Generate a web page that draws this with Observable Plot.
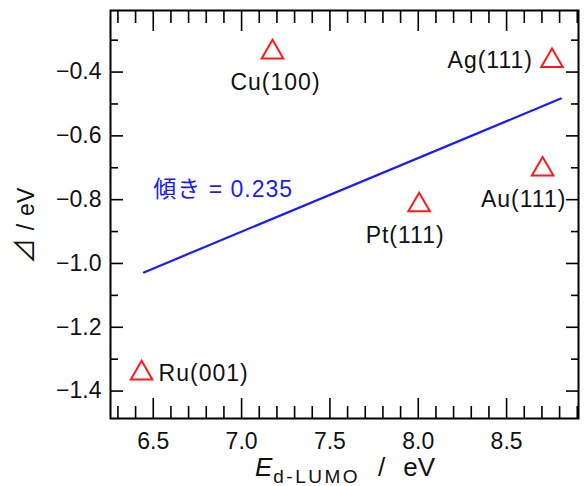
<!DOCTYPE html>
<html>
<head>
<meta charset="utf-8">
<script src="https://cdn.jsdelivr.net/npm/d3@7"></script>
<script src="https://cdn.jsdelivr.net/npm/@observablehq/plot@0.6"></script>
<style>
  html, body { margin: 0; padding: 0; background: #fff; }
  #chart { width: 585px; height: 486px; overflow: hidden; }
</style>
</head>
<body>
<div id="chart"></div>
<script>
// ---- data ----
const surfaces = ["Ru(001)", "Cu(100)", "Pt(111)", "Au(111)", "Ag(111)"];
const eLumo    = [6.434, 7.175, 8.005, 8.704, 8.757];      // E_d-LUMO / eV
const delta    = [-1.344, -0.338, -0.817, -0.705, -0.365]; // ⊿ / eV

// regression line end points
const fitX = [6.447, 8.807];
const fitY = [-1.028, -0.483];
const slopeText = "傾き = 0.235";
const slopeAnchor = {x: 6.5, y: -0.77};

// ticks
const xMajor = [6.5, 7.0, 7.5, 8.0, 8.5];
const xMinor = [6.3, 6.4, 6.6, 6.7, 6.8, 6.9, 7.1, 7.2, 7.3, 7.4, 7.6, 7.7, 7.8, 7.9, 8.1, 8.2, 8.3, 8.4, 8.6, 8.7, 8.8, 8.9];
const yMajor = [-1.4, -1.2, -1.0, -0.8, -0.6, -0.4];
const yMinor = [-1.3, -1.1, -0.9, -0.7, -0.5, -0.3];

// ---- build ----
const points = surfaces.map((s, i) => ({name: s, x: eLumo[i], y: delta[i]}));
const fit = fitX.map((x, i) => ({x, y: fitY[i]}));

// label placement relative to each marker (style, not data)
const placement = {
  "Ru(001)": {dx: 17, dy: 0, textAnchor: "start"},
  "Cu(100)": {dx: 3, dy: 30, textAnchor: "middle"},
  "Pt(111)": {dx: -14, dy: 31, textAnchor: "middle"},
  "Au(111)": {dx: -19, dy: 30, textAnchor: "middle"},
  "Ag(111)": {dx: -19, dy: 0, textAnchor: "end"}
};

const FONT = "'Liberation Sans', Arial, Helvetica, sans-serif";
const fmt = d => d.toFixed(1).replace("-", "\u2212");
const blank = () => "";

const labelMarks = points.map(p => Plot.text([p], {
  x: "x", y: "y", text: "name",
  dx: placement[p.name].dx, dy: placement[p.name].dy,
  textAnchor: placement[p.name].textAnchor,
  fontSize: 23, fill: "#111"
}));

const plot = Plot.plot({
  width: 585, height: 486,
  marginLeft: 110, marginRight: 7, marginTop: 10, marginBottom: 68,
  style: {fontFamily: FONT, background: "#fff", overflow: "visible"},
  x: {domain: [6.258, 8.907]},
  y: {domain: [-1.486, -0.207]},
  marks: [
    // inward ticks on all four sides
    Plot.axisX(xMinor, {anchor: "bottom", tickSize: -12, tickFormat: blank, strokeWidth: 1.6, label: null}),
    Plot.axisX(xMajor, {anchor: "bottom", tickSize: -20, tickFormat: blank, strokeWidth: 1.6, label: null}),
    Plot.axisX(xMinor, {anchor: "top", tickSize: -12, tickFormat: blank, strokeWidth: 1.6, label: null}),
    Plot.axisX(xMajor, {anchor: "top", tickSize: -20, tickFormat: blank, strokeWidth: 1.6, label: null}),
    Plot.axisY(yMinor, {anchor: "left", tickSize: -8, tickFormat: blank, strokeWidth: 1.6, label: null}),
    Plot.axisY(yMajor, {anchor: "left", tickSize: -13, tickFormat: blank, strokeWidth: 1.6, label: null}),
    Plot.axisY(yMinor, {anchor: "right", tickSize: -8, tickFormat: blank, strokeWidth: 1.6, label: null}),
    Plot.axisY(yMajor, {anchor: "right", tickSize: -13, tickFormat: blank, strokeWidth: 1.6, label: null}),
    // tick labels
    Plot.axisX(xMajor, {anchor: "bottom", tickSize: 0, tickPadding: 14, tickFormat: d => d.toFixed(1), fontSize: 23, label: null, fill: "#111"}),
    Plot.axisY(yMajor, {anchor: "left", tickSize: 0, tickPadding: 9, tickFormat: fmt, fontSize: 23, label: null, fill: "#111"}),
    Plot.frame({stroke: "#000", strokeWidth: 2}),
    // fit line
    Plot.line(fit, {x: "x", y: "y", stroke: "#1a1aff", strokeWidth: 2.2}),
    Plot.text([slopeAnchor], {x: "x", y: "y", text: () => slopeText, textAnchor: "start",
      fontSize: 23, fill: "#1a1aff", fontFamily: "'Liberation Sans', 'Noto Sans CJK JP', sans-serif"}),
    // markers
    Plot.dot(points, {x: "x", y: "y", symbol: "triangle", r: 8, stroke: "#ff1a1a", strokeWidth: 2, fill: "none"}),
    ...labelMarks
  ]
});

document.getElementById("chart").appendChild(plot);

const svg = d3.select(plot);
// slightly wider letter spacing on the in-plot annotations
svg.selectAll('g[aria-label="text"] text').attr("letter-spacing", 1);

// axis titles (real text with italic / subscript)
const xt = svg.append("text")
  .attr("x", 110 + (585 - 110 - 7) / 2 + 1).attr("y", 476)
  .attr("text-anchor", "middle").attr("font-size", 26)
  .attr("font-family", FONT).attr("fill", "#111");
xt.append("tspan").attr("font-style", "italic").text("E");
xt.append("tspan").attr("font-size", 19).attr("dy", 7).attr("dx", 1).attr("letter-spacing", 2.5).text("d-LUMO");
xt.append("tspan").attr("dy", -7).attr("dx", 18).text("/");
xt.append("tspan").attr("dx", 18).text("eV");

const yt = svg.append("text")
  .attr("transform", "translate(34,226) rotate(-90)")
  .attr("text-anchor", "middle").attr("font-size", 23)
  .attr("font-family", FONT).attr("fill", "#111");
yt.append("tspan").attr("font-family", "'Noto Sans CJK JP', 'DejaVu Sans', sans-serif").attr("font-size", 26).text("\u22BF");
yt.append("tspan").attr("dx", 8).text("/");
yt.append("tspan").attr("dx", 8).text("eV");
</script>
</body>
</html>
